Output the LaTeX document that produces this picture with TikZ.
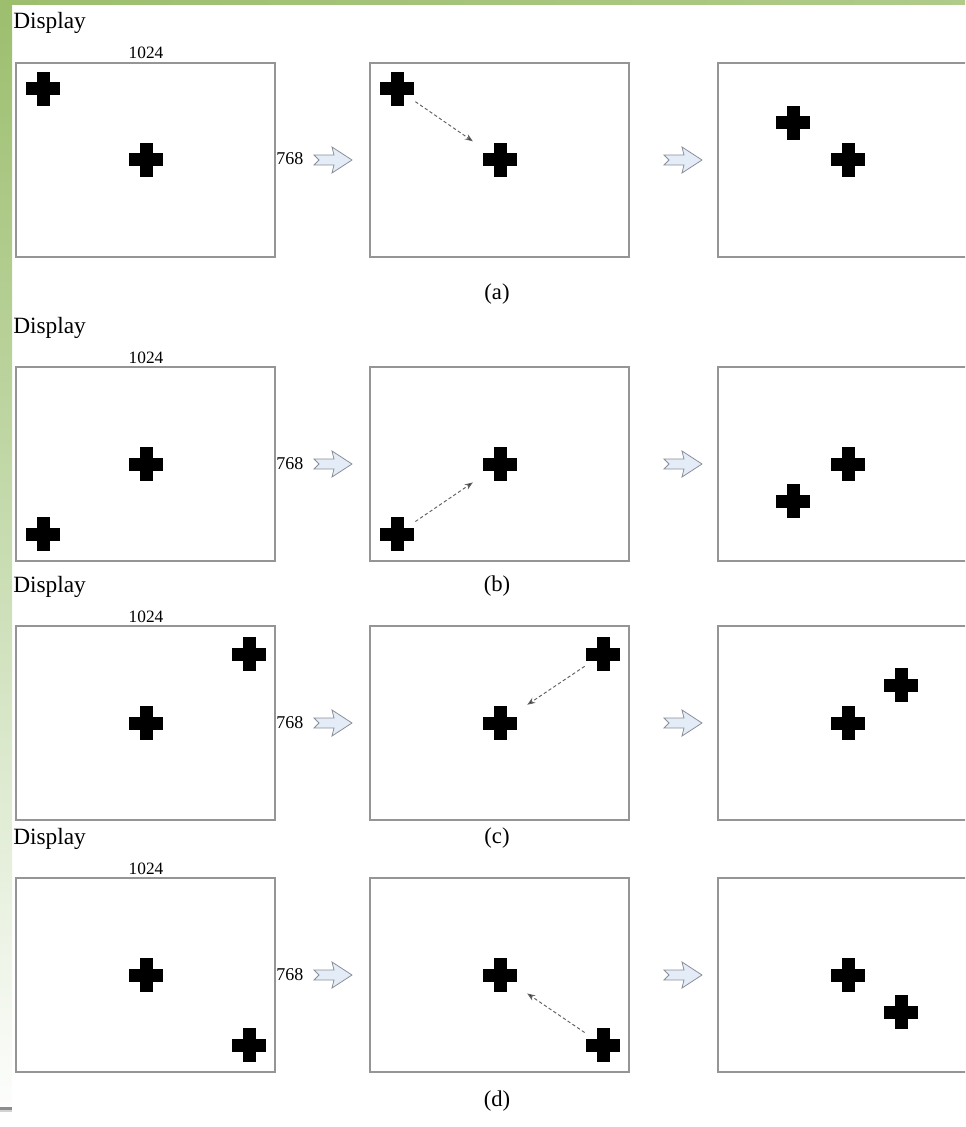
\documentclass[tikz,border=0pt]{standalone}
\usepackage{fontspec}
\setmainfont{Liberation Serif}
\usetikzlibrary{arrows.meta}
\definecolor{slidegreen}{HTML}{9CBE6D}
\definecolor{slidegreenmid}{HTML}{C9DDB3}
\definecolor{boxgray}{HTML}{959595}
\definecolor{arrowfill}{HTML}{E4ECF7}
\definecolor{arrowline}{HTML}{8A8F99}
\definecolor{dashgray}{HTML}{606060}
\tikzset{
  panel/.style={draw=boxgray, line width=1.1pt, fill=white, minimum width=194.25pt, minimum height=145.5pt, inner sep=0pt},
  crossmark/.style={minimum size=25.5pt, inner sep=0pt,
    path picture={
      \fill[black] ([xshift=-4.875pt,yshift=-12.75pt]path picture bounding box.center) rectangle ([xshift=4.875pt,yshift=12.75pt]path picture bounding box.center);
      \fill[black] ([xshift=-12.75pt,yshift=-4.875pt]path picture bounding box.center) rectangle ([xshift=12.75pt,yshift=4.875pt]path picture bounding box.center);
    }},
  disptext/.style={anchor=base west, inner sep=0pt, font=\fontsize{17.5}{20}\selectfont},
  widthtext/.style={anchor=base, inner sep=0pt, font=\fontsize{13}{15}\selectfont},
  heighttext/.style={anchor=base west, inner sep=0pt, font=\fontsize{13.5}{15}\selectfont},
  captext/.style={inner sep=0pt, font=\fontsize{17}{20}\selectfont},
  dasharrow/.style={draw=dashgray, line width=0.7pt, dash pattern=on 2.5pt off 1.8pt, -{Stealth[length=6pt,width=4.5pt,fill=black]}, shorten <=1pt, shorten >=9pt},
  harrow/.pic={\draw[draw=arrowline, fill=arrowfill, line width=0.6pt, line join=miter]
     (-19,-5) -- (1,-5) -- (-1,-13) -- (19,0) -- (-1,13) -- (1,5) -- (-19,5) -- (-14,0) -- cycle;}
}
\begin{document}
\begin{tikzpicture}[x=0.75pt, y=-0.75pt]
\useasboundingbox (0,0) rectangle (965,1127);
% slide decoration
\shade[top color=slidegreen, bottom color=white, middle color=slidegreenmid, shading angle=0] (0,0) rectangle (12,1127);
\shade[left color=slidegreen, right color=slidegreen!80] (0,0) rectangle (965,5);
\fill[gray!90] (0,1107) rectangle (12,1109.5);
\fill[gray!35] (0,1109.5) rectangle (12,1112);
\begin{scope}
\clip (0,0) rectangle (965,1127);
\foreach \r/\T/\dy/\mx/\my/\rx/\ry/\cy in {a/63/20/43/26/793/60/294, b/367/328/43/167/793/134/586, c/626/585/249/28/901/59/838, d/878/836/249/167/901/134/1101}{
  % texts
  \node[disptext] (disp\r) at (13,\T-34) {Display};
  \node[widthtext] (w\r) at (146,\T-4) {1024};
  \node[heighttext] (h\r) at (276,\T+102) {768};
  \node[captext] (cap\r) at (497,\cy) {(\r)};
  % panels
  \node[panel] (left\r) at (145.5,\T+97) {};
  \node[panel] (mid\r) at (499.5,\T+97) {};
  \node[panel] (right\r) at (847.5,\T+97) {};
  % crosses
  \node[crossmark] (lm\r) at (\mx,\T+\my) {};
  \node[crossmark] (lc\r) at (146,\T+97) {};
  \node[crossmark] (mm\r) at (\mx+354,\T+\my) {};
  \node[crossmark] (mc\r) at (500,\T+97) {};
  \node[crossmark] (rm\r) at (\rx,\T+\ry) {};
  \node[crossmark] (rc\r) at (848,\T+97) {};
  \draw[dasharrow] (mm\r) -- (mc\r);
  % block arrows
  \pic at (333,\T+97) {harrow};
  \pic at (683,\T+97) {harrow};
}
\end{scope}
\end{tikzpicture}
\end{document}
